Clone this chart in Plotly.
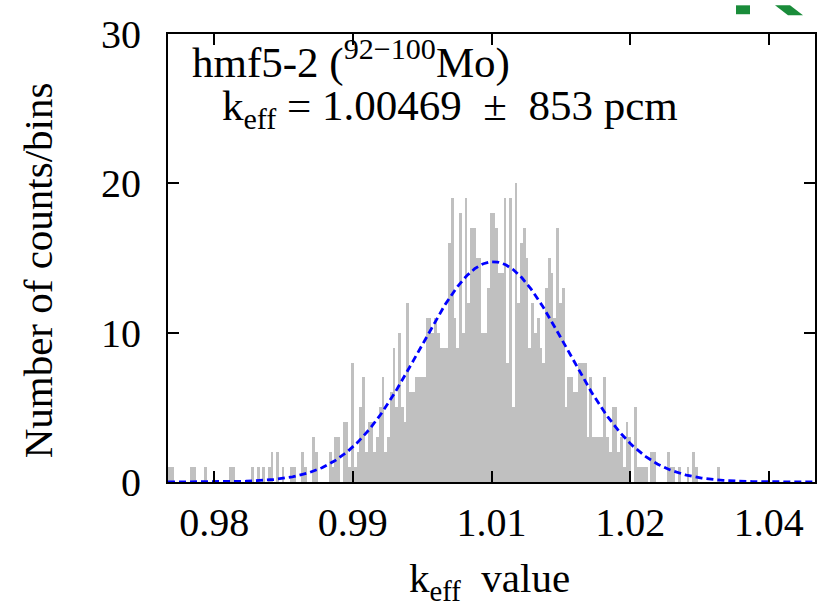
import numpy as np
import plotly.graph_objects as go

# Histogram of sampled k_eff values (counts per bin)
bin_start = 0.975
bin_width = 0.0003
counts = [
    1, 1, 0, 0, 0, 0, 0, 0, 1, 1,
    0, 0, 0, 1, 0, 0, 0, 0, 0, 0,
    0, 0, 1, 1, 0, 0, 0, 0, 0, 0,
    1, 0, 1, 0, 1, 0, 1, 2, 0, 2,
    0, 1, 0, 0, 1, 1, 0, 0, 2, 1,
    0, 0, 3, 2, 0, 0, 0, 0, 2, 1,
    3, 3, 0, 4, 4, 1, 8, 1, 2, 5,
    7, 2, 4, 4, 2, 3, 5, 7, 2, 3,
    6, 9, 5, 10, 5, 4, 12, 6, 6, 7,
    7, 7, 7, 11, 11, 10, 11, 10, 9, 9,
    9, 16, 19, 11, 9, 18, 10, 19, 12, 17,
    17, 15, 15, 10, 10, 13, 18, 18, 17, 14,
    14, 19, 8, 19, 5, 20, 12, 16, 17, 15,
    9, 12, 10, 11, 9, 8, 13, 15, 14, 11,
    17, 12, 13, 5, 7, 7, 6, 6, 8, 8,
    8, 3, 7, 3, 3, 3, 3, 7, 3, 2,
    5, 5, 2, 3, 1, 4, 3, 0, 5, 1,
    1, 1, 1, 0, 2, 2, 0, 0, 0, 0,
    2, 1, 1, 0, 1, 0, 0, 1, 0, 2,
    1, 0, 0, 0, 0, 0, 0, 0, 1, 0,
]

# Gaussian fit parameters
fit_amp = 14.75
fit_mean = 1.0102
fit_sigma = 0.00793

# Axis ticks
x_range = [0.975, 1.045]
y_range = [0, 30]
x_tickvals = [0.98, 0.995, 1.01, 1.025, 1.04]
x_ticktext = ["0.98", "0.99", "1.01", "1.02", "1.04"]
y_tickvals = [0, 10, 20, 30]

bin_centers = [bin_start + bin_width * (i + 0.5) for i in range(len(counts))]
xf = np.linspace(x_range[0], x_range[1], 600)
yf = fit_amp * np.exp(-0.5 * ((xf - fit_mean) / fit_sigma) ** 2)

FONT = "Liberation Serif"

fig = go.Figure()
fig.add_trace(go.Bar(
    x=bin_centers, y=counts, width=bin_width,
    marker=dict(color="#c0c0c0", line=dict(width=0)),
    hoverinfo="skip",
))
fig.add_trace(go.Scatter(
    x=xf, y=yf, mode="lines",
    line=dict(color="#0000ff", width=2.8, dash="7px,4px"),
    hoverinfo="skip",
))

W, H = 831, 608
ml, mr, mt, mb = 168, 16, 29, 126
pw, ph = W - ml - mr, H - mt - mb


def px(X):
    return (X - ml) / pw


def py(Y):
    return (H - mb - Y) / ph


axis_common = dict(
    showline=True, linecolor="black", linewidth=2, mirror="ticks",
    ticks="inside", ticklen=11, tickwidth=1.5, tickcolor="black",
    showgrid=False, zeroline=False,
    tickfont=dict(family=FONT, size=40, color="black"),
)

fig.update_layout(
    width=W, height=H,
    margin=dict(l=ml, r=mr, t=mt, b=mb, pad=0),
    paper_bgcolor="white", plot_bgcolor="white",
    showlegend=False, bargap=0,
    xaxis=dict(range=x_range, tickvals=x_tickvals, ticktext=x_ticktext,
               ticklabelstandoff=4, **axis_common),
    yaxis=dict(range=y_range, tickvals=y_tickvals,
               ticklabelstandoff=17, **axis_common),
    annotations=[
        dict(text="hmf5-2 (<sup>92\u2212100</sup>Mo)", xref="paper", yref="paper",
             x=px(190), y=py(55), xanchor="left", yanchor="middle", showarrow=False,
             font=dict(family=FONT, size=43, color="black")),
        dict(text="k<sub>eff</sub> = 1.00469&nbsp; \u00b1&nbsp; 853 pcm",
             xref="paper", yref="paper",
             x=px(220), y=py(105), xanchor="left", yanchor="middle", showarrow=False,
             font=dict(family=FONT, size=43, color="black")),
        dict(text="k<sub>eff</sub>&nbsp; value", xref="paper", yref="paper",
             x=px(489), y=py(582), xanchor="center", yanchor="middle", showarrow=False,
             font=dict(family=FONT, size=41, color="black")),
        dict(text="Number of counts/bins", xref="paper", yref="paper",
             x=px(38), y=py(268), xanchor="center", yanchor="middle", showarrow=False,
             textangle=-90, font=dict(family=FONT, size=41, color="black")),
    ],
    shapes=[
        dict(type="rect", xref="paper", yref="paper",
             x0=px(736), x1=px(750), y0=py(9), y1=py(0),
             fillcolor="#1a8c3a", line=dict(width=0)),
        dict(type="path", xref="paper", yref="paper",
             path=f"M {px(775)} {py(0)} L {px(790)} {py(0)} L {px(803)} {py(10)} L {px(788)} {py(10)} Z",
             fillcolor="#1a8c3a", line=dict(width=0)),
    ],
)

fig.write_html("out.html")
